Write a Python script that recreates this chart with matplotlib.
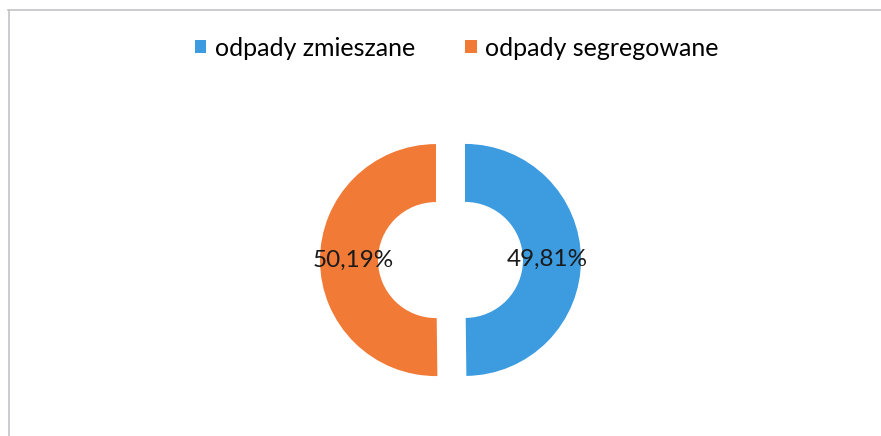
import matplotlib
matplotlib.use("Agg")
import matplotlib.pyplot as plt
from matplotlib.patches import Patch
from matplotlib.lines import Line2D

categories = ["odpady zmieszane", "odpady segregowane"]
values = [49.81, 50.19]
colors = ["#3D9BE0", "#F07A36"]

plt.rcParams['font.family'] = ['Lato', 'DejaVu Sans']

W, H = 881, 436
fig = plt.figure(figsize=(W / 100, H / 100), dpi=100)
fig.patch.set_facecolor("white")

# border (left and top)
fig.add_artist(Line2D([8.5 / W, 8.5 / W], [0, 1 - 10 / H], transform=fig.transFigure,
                      color="#C4C4C8", lw=1.2))
fig.add_artist(Line2D([8 / W, 1], [1 - 10.5 / H, 1 - 10.5 / H], transform=fig.transFigure,
                      color="#C4C4C8", lw=1.2))

cx, cy = 450.5, 260
R = 116
half = 150
ax = fig.add_axes([(cx - half) / W, (H - cy - half) / H, 2 * half / W, 2 * half / H])
ax.pie(values, colors=colors, startangle=90, counterclock=False,
       explode=[14.5 / R, 14.5 / R],
       wedgeprops=dict(width=0.5, edgecolor="none"),
       autopct=lambda p: f"{p:.2f}%".replace(".", ","), pctdistance=0.71,
       textprops=dict(fontsize=17.5, color="#1a1a1a"))
lim = half / R
ax.set_xlim(-lim, lim)
ax.set_ylim(-lim, lim)
ax.set_aspect("equal")
ax.axis("off")

handles = [Patch(facecolor=c, edgecolor="none") for c in colors]
fig.legend(handles, categories, loc="center", bbox_to_anchor=(457 / W, 1 - 48 / H),
           ncol=2, frameon=False, fontsize=18, handlelength=0.45, handleheight=0.45,
           handletextpad=0.35, columnspacing=2.0)

fig.savefig("out.png", dpi=100, facecolor="white")
